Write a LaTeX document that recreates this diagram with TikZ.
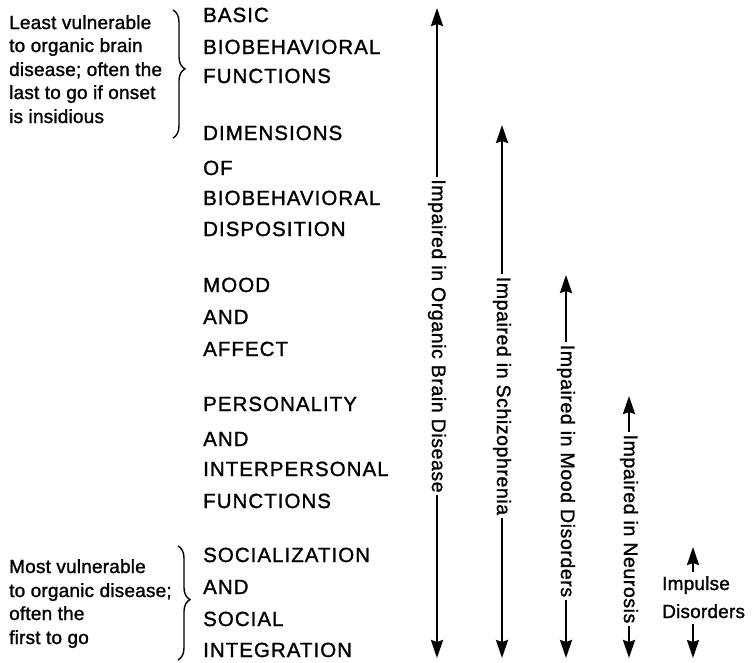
\documentclass[tikz,border=0pt]{standalone}
\usepackage{fontspec}
\setmainfont{Liberation Sans}[LetterSpace=1,FakeBold=1.3]
\newfontfamily\capsfont{Liberation Sans}[LetterSpace=5,FakeBold=1.3]
\newfontfamily\axisfont{Liberation Sans}[LetterSpace=3,FakeBold=1.3]
\usetikzlibrary{arrows.meta,decorations.pathreplacing,calc}

\tikzset{
  lvl/.style={font=\capsfont\fontsize{20.5}{21}\selectfont, anchor=base west, inner sep=0pt},
  remark/.style={font=\fontsize{19}{20}\selectfont, anchor=base west, inner sep=0pt},
  rangelabel/.style={font=\axisfont\fontsize{19.5}{20}\selectfont, rotate=-90, inner sep=2.5pt},
  shaft/.style={line width=2.5pt},
  thinshaft/.style={line width=2pt},
  >={Stealth[length=18pt,width=12pt,inset=2pt]},
  curly/.style={decorate, decoration={brace, amplitude=12pt}, line width=1.4pt}
}

\begin{document}
\begin{tikzpicture}[x=1pt,y=-1pt]
\useasboundingbox (0,0) rectangle (752,662);

% levels of function, from the most basic to the most social
\node[lvl] (l1)  at (203,22)  {BASIC};
\node[lvl] (l2)  at (203,54)  {BIOBEHAVIORAL};
\node[lvl] (l3)  at (203,83)  {FUNCTIONS};
\node[lvl] (l4)  at (203,140) {DIMENSIONS};
\node[lvl] (l5)  at (203,175) {OF};
\node[lvl] (l6)  at (203,205) {BIOBEHAVIORAL};
\node[lvl] (l7)  at (203,236) {DISPOSITION};
\node[lvl] (l8)  at (203,292) {MOOD};
\node[lvl] (l9)  at (203,324) {AND};
\node[lvl] (l10) at (203,356) {AFFECT};
\node[lvl] (l11) at (203,411) {PERSONALITY};
\node[lvl] (l12) at (203,446) {AND};
\node[lvl] (l13) at (203,476) {INTERPERSONAL};
\node[lvl] (l14) at (203,508) {FUNCTIONS};
\node[lvl] (l15) at (203,562) {SOCIALIZATION};
\node[lvl] (l16) at (203,594) {AND};
\node[lvl] (l17) at (203,626) {SOCIAL};
\node[lvl] (l18) at (203,657) {INTEGRATION};

% side remarks with their braces
\node[remark] (t1) at (9,29)  {Least vulnerable};
\node[remark] (t2) at (9,52)  {to organic brain};
\node[remark] (t3) at (9,76)  {disease; often the};
\node[remark] (t4) at (9,99)  {last to go if onset};
\node[remark] (t5) at (9,123) {is insidious};
\draw[curly, decoration={aspect=0.46}] (173,10) -- (173,138);

\node[remark] (b1) at (9,573) {Most vulnerable};
\node[remark] (b2) at (9,597) {to organic disease;};
\node[remark] (b3) at (9,620) {often the};
\node[remark] (b4) at (9,644) {first to go};
\draw[curly, decoration={aspect=0.47}] (178,546) -- (178,660);

% ranges of impairment
\coordinate (o top) at (437,8);
\coordinate (o bot) at (437,658);
\node[rangelabel] (o lab) at (437,336) {Impaired in Organic Brain Disease};
\draw[shaft,<-] (o top) -- (o lab.west);
\draw[shaft,->] (o lab.east) -- (o bot);

\coordinate (s top) at (502,125);
\coordinate (s bot) at (502,658);
\node[rangelabel] (s lab) at (502,396) {Impaired in Schizophrenia};
\draw[shaft,<-] (s top) -- (s lab.west);
\draw[shaft,->] (s lab.east) -- (s bot);

\coordinate (m top) at (566,275);
\coordinate (m bot) at (566,658);
\node[rangelabel] (m lab) at (566,471) {Impaired in Mood Disorders};
\draw[shaft,<-] (m top) -- (m lab.west);
\draw[shaft,->] (m lab.east) -- (m bot);

\coordinate (n top) at (629,396);
\coordinate (n bot) at (629,658);
\node[rangelabel] (n lab) at (629,529) {Impaired in Neurosis};
\draw[shaft,<-] (n top) -- (n lab.west);
\draw[shaft,->] (n lab.east) -- (n bot);

\node[remark] (i1) at (662,590) {Impulse};
\node[remark] (i2) at (662,618) {Disorders};
\coordinate (i top) at (693,547);
\coordinate (i bot) at (693,658);
\draw[thinshaft,->] ($(i1.north -| i top)+(0,-4)$) -- (i top);
\draw[thinshaft,->] ($(i2.south -| i bot)+(0,6)$) -- (i bot);
\end{tikzpicture}
\end{document}
